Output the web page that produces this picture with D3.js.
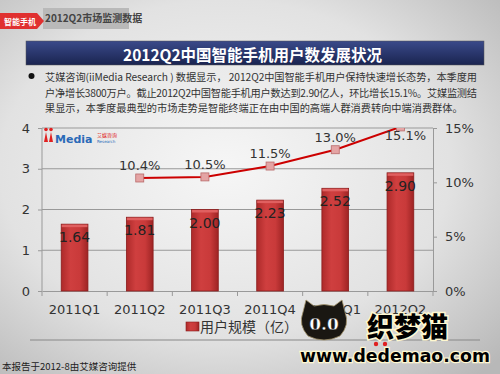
<!DOCTYPE html>
<html><head><meta charset="utf-8">
<script src="https://cdn.jsdelivr.net/npm/d3@7"></script>
<style>html,body{margin:0;padding:0;}svg{display:block;}</style>
</head><body>
<script>
const categories = ["2011Q1","2011Q2","2011Q3","2011Q4","2012Q1","2012Q2"];
const users = [1.64,1.81,2.00,2.23,2.52,2.90];
const growth = [null,10.4,10.5,11.5,13.0,15.1];
const leftTicks = [0,1,2,3,4];
const rightTicks = [0,5,10,15];
const title = "2012Q2中国智能手机用户数发展状况";
const para = ["艾媒咨询(iiMedia Research ) 数据显示， 2012Q2中国智能手机用户保持快速增长态势，本季度用",
"户净增长3800万户。截止2012Q2中国智能手机用户数达到2.90亿人，环比增长15.1%。艾媒监测结",
"果显示，本季度最典型的市场走势是智能终端正在由中国的高端人群消费转向中端消费群体。"];
const legendLabel = "用户规模（亿）";

const W=500,H=374;
const svg=d3.select("body").append("svg").attr("width",W).attr("height",H);
const defs=svg.append("defs");
const bg=defs.append("radialGradient").attr("id","bg").attr("cx","45%").attr("cy","45%").attr("r","75%");
bg.append("stop").attr("offset","0%").attr("stop-color","#f6f6f6");
bg.append("stop").attr("offset","60%").attr("stop-color","#e2e2e2");
bg.append("stop").attr("offset","100%").attr("stop-color","#b8b8b8");
svg.append("rect").attr("width",W).attr("height",H).attr("fill","url(#bg)");

// header tag
svg.append("rect").attr("x",43).attr("y",8).attr("width",86).attr("height",21).attr("fill","#b9b9b9");
svg.append("path").attr("d","M0,13 L37,13 L44,21 L37,29 L0,29 Z").attr("fill","#e03030");
svg.append("text").attr("x",4).attr("y",24.5).attr("font-size",8).attr("font-weight","bold").attr("fill","#fff")
  .attr("font-family","Noto Sans CJK SC").text("智能手机");
svg.append("text").attr("x",45).attr("y",22).attr("font-size",10).attr("font-weight","bold").attr("fill","#444")
  .attr("font-family","Noto Sans CJK SC").text("2012Q2市场监测数据");

// title banner
const tg=defs.append("linearGradient").attr("id","tg").attr("x1",0).attr("y1",0).attr("x2",0).attr("y2",1);
tg.append("stop").attr("offset","0%").attr("stop-color","#3a4a8a");
tg.append("stop").attr("offset","100%").attr("stop-color","#1a2450");
svg.append("rect").attr("x",26).attr("y",41).attr("width",458).attr("height",24).attr("fill","url(#tg)").attr("stroke","#555").attr("stroke-width",0.5);
svg.append("text").attr("x",123).attr("y",60.5).attr("font-size",16).attr("font-weight","bold")
  .attr("fill","#fff").attr("font-family","Noto Sans CJK SC")
  .attr("textLength",259).attr("lengthAdjust","spacingAndGlyphs").text(title);

// paragraph
svg.append("circle").attr("cx",31.5).attr("cy",76).attr("r",3).attr("fill","#111");
para.forEach((t,i)=>{
  const tx=svg.append("text").attr("x",45).attr("y",81+i*15.5).attr("font-size",10.2).attr("fill","#333")
    .attr("font-family","Noto Sans CJK SC").text(t);
  if(i<2) tx.attr("textLength",432).attr("lengthAdjust","spacing");
});

// chart
const plot={l:42,r:433,t:128,b:291};
const x=d3.scaleBand().domain(categories).range([plot.l,plot.r]).paddingInner(0.59).paddingOuter(0.295);
const xc=d3.scaleBand().domain(categories).range([plot.l,plot.r]);
const yL=d3.scaleLinear().domain([0,4]).range([plot.b,plot.t]);
const yR=d3.scaleLinear().domain([0,15]).range([plot.b,plot.t]);

// gridlines
svg.append("g").selectAll("line").data(leftTicks.filter(d=>d>0)).join("line")
  .attr("x1",plot.l).attr("x2",plot.r).attr("y1",d=>yL(d)).attr("y2",d=>yL(d))
  .attr("stroke","#999").attr("stroke-width",1);

// axes
const axL=svg.append("g").attr("transform",`translate(${plot.l},0)`).call(d3.axisLeft(yL).tickValues(leftTicks).tickFormat(d=>String(d)).tickSize(4).tickPadding(8));
const axR=svg.append("g").attr("transform",`translate(${plot.r},0)`).call(d3.axisRight(yR).tickValues(rightTicks).tickFormat(d=>d+"%").tickSize(4).tickPadding(8));
const axB=svg.append("g").attr("transform",`translate(0,${plot.b})`).call(d3.axisBottom(xc).tickSize(0).tickPadding(14));
[axL,axR,axB].forEach(a=>{
  a.select(".domain").attr("stroke","#999");
  a.selectAll(".tick line").attr("stroke","#999");
  a.selectAll("text").attr("font-size",13).attr("fill","#333").attr("font-family","DejaVu Sans");
});
axL.select(".domain").remove();
svg.append("line").attr("x1",plot.l).attr("x2",plot.l).attr("y1",plot.t).attr("y2",plot.b).attr("stroke","#999");
// bottom boundary ticks
svg.append("g").selectAll("line").data(d3.range(categories.length+1)).join("line")
  .attr("x1",i=>plot.l+i*xc.step()).attr("x2",i=>plot.l+i*xc.step())
  .attr("y1",plot.b).attr("y2",plot.b+5).attr("stroke","#999");

// bars
const bgd=defs.append("linearGradient").attr("id","bar").attr("x1",0).attr("y1",0).attr("x2",1).attr("y2",0);
bgd.append("stop").attr("offset","0%").attr("stop-color","#ad2a2a");
bgd.append("stop").attr("offset","35%").attr("stop-color","#cf3f3f");
bgd.append("stop").attr("offset","70%").attr("stop-color","#c93a3a");
bgd.append("stop").attr("offset","100%").attr("stop-color","#9e2424");
const barsG=svg.append("g");
barsG.selectAll("rect").data(users).join("rect")
  .attr("x",(d,i)=>x(categories[i])).attr("width",x.bandwidth())
  .attr("y",d=>yL(d)).attr("height",d=>plot.b-yL(d))
  .attr("fill","url(#bar)").attr("stroke","#8a1c1c").attr("stroke-width",0.8);
barsG.selectAll("rect.cap").data(users).join("rect").attr("class","cap")
  .attr("x",(d,i)=>x(categories[i])+0.5).attr("width",x.bandwidth()-1)
  .attr("y",d=>yL(d)+0.5).attr("height",2.5).attr("fill","#e06060");
barsG.selectAll("text").data(users).join("text")
  .attr("x",(d,i)=>xc(categories[i])+xc.bandwidth()/2).attr("y",d=>yL(d)+18)
  .attr("text-anchor","middle").attr("font-size",14).attr("fill","#222").attr("font-family","DejaVu Sans")
  .text(d=>d.toFixed(2));

// line
defs.append("clipPath").attr("id","clip").append("rect").attr("x",plot.l).attr("y",plot.t).attr("width",plot.r-plot.l).attr("height",plot.b-plot.t);
const pts=growth.map((v,i)=>({v,i})).filter(d=>d.v!=null);
const cx=d=>xc(categories[d.i])+xc.bandwidth()/2;
const lg=svg.append("g").attr("clip-path","url(#clip)");
lg.append("path").datum(pts).attr("d",d3.line().x(cx).y(d=>yR(d.v)))
  .attr("fill","none").attr("stroke","#cc0000").attr("stroke-width",2);
lg.selectAll("rect").data(pts).join("rect")
  .attr("x",d=>cx(d)-4).attr("y",d=>yR(d.v)-4).attr("width",8).attr("height",8)
  .attr("fill","#e4a4a4").attr("stroke","#b86a6a").attr("stroke-width",0.8);
svg.append("g").selectAll("text").data(pts).join("text")
  .attr("x",d=>cx(d)+(yR(d.v)-13<plot.t+7?5:0)).attr("y",d=>Math.max(yR(d.v)-13,plot.t+7)+5)
  .attr("text-anchor","middle").attr("font-size",13).attr("fill","#333").attr("font-family","DejaVu Sans")
  .text(d=>d.v.toFixed(1)+"%");

// legend
const lgd=svg.append("g");
lgd.append("rect").attr("x",186).attr("y",322).attr("width",13).attr("height",9).attr("fill","url(#bar)").attr("stroke","#8a1c1c").attr("stroke-width",0.6);
lgd.append("text").attr("x",200).attr("y",332).attr("font-size",14).attr("fill","#333").attr("font-family","Noto Sans CJK SC").text(legendLabel);

// bottom rule and footer
svg.append("line").attr("x1",30).attr("x2",480).attr("y1",340).attr("y2",340).attr("stroke","#888").attr("stroke-width",1.2);
svg.append("text").attr("x",2).attr("y",370).attr("font-size",9.5).attr("fill","#222").attr("font-family","Noto Sans CJK SC").text("本报告于2012-8由艾媒咨询提供");

// iiMedia logo (top-left of plot)
const logo=svg.append("g");
[[46,129.5],[51,129.5]].forEach(p=>logo.append("circle").attr("cx",p[0]).attr("cy",p[1]).attr("r",1.8).attr("fill","#e02020"));
logo.append("path").attr("d","M44,142 L46,132 L48,142 Z M49,142 L51,132 L53,142 Z").attr("fill","#e02020");
logo.append("text").attr("x",55).attr("y",143).attr("font-size",11).attr("font-weight","bold").attr("fill","#2a6ab8").attr("font-family","DejaVu Sans").text("Media");
logo.append("text").attr("x",97).attr("y",137).attr("font-size",5).attr("fill","#e02020").attr("font-family","Noto Sans CJK SC").text("艾媒咨询");
logo.append("text").attr("x",97).attr("y",143).attr("font-size",4).attr("fill","#2a6ab8").attr("font-family","DejaVu Sans").text("Research");

// watermark
const wm=svg.append("g");
wm.append("path").attr("d","M303,312 L306,300 L314,306 Q324,303 334,306 L342,300 L345,312 Q350,325 340,336 Q324,344 308,336 Q298,325 303,312 Z").attr("fill","#1a1712").attr("stroke","#a89870").attr("stroke-width",0.8);
wm.append("text").attr("x",324).attr("y",330).attr("text-anchor","middle").attr("font-size",17).attr("font-weight","bold").attr("fill","#fff").attr("stroke","#000").attr("stroke-width",0.4).attr("font-family","DejaVu Serif").text("0.0");
wm.append("text").attr("x",367).attr("y",337).attr("font-size",27).attr("font-weight","900").attr("fill","#000").attr("stroke","#fff8d0").attr("stroke-width",3).attr("paint-order","stroke").attr("font-family","Noto Sans CJK SC").text("织梦猫");
[[376,344],[385,344]].forEach(p=>wm.append("circle").attr("cx",p[0]).attr("cy",p[1]).attr("r",2.2).attr("fill","#e02020"));
wm.append("text").attr("x",300).attr("y",362).attr("font-size",18).attr("font-weight","bold").attr("fill","#000").attr("stroke","#fff8d0").attr("stroke-width",2.5).attr("paint-order","stroke").attr("font-family","DejaVu Sans").attr("textLength",190).attr("lengthAdjust","spacingAndGlyphs").text("www.dedemao.com");
</script>
</body></html>
